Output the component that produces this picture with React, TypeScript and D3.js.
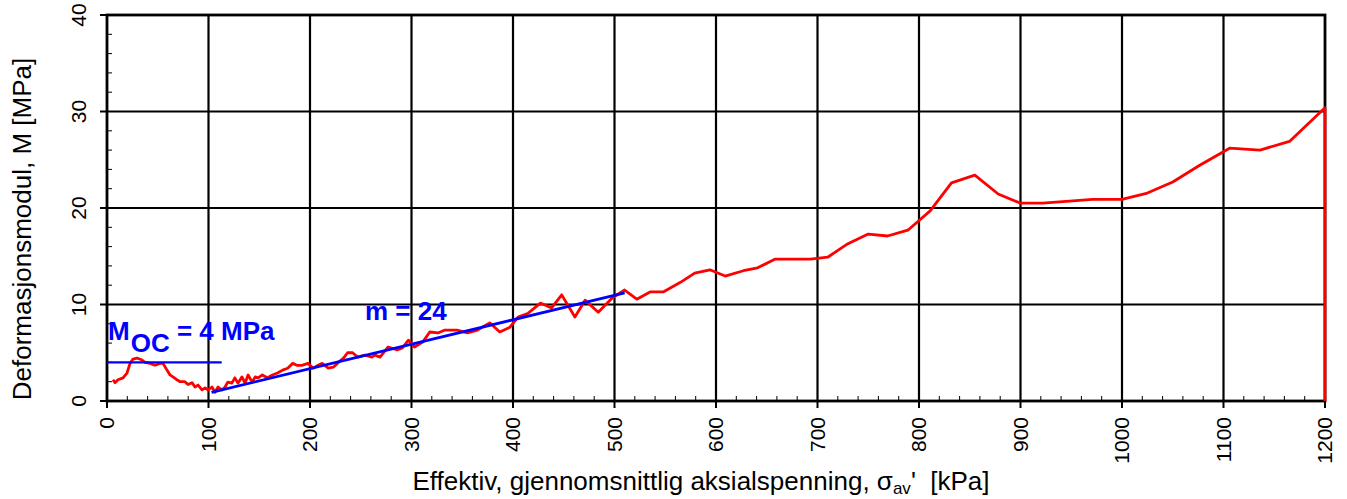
import React from "react";
import * as d3 from "d3";

// effective mean axial stress [kPa] and deformation modulus M [MPa]
const stressKPa = [
  5.9, 7.9, 10.8, 15.8, 19.7, 22.7, 25.6, 29.6, 34.5, 37.4, 42.4, 47.3, 52.2, 55.2, 59.1, 62.1,
  65, 69, 72, 76.8, 79.8, 83.7, 86.7, 89.7, 93.6, 96.6, 99.5, 103.4, 106.4, 109.4, 113.3, 116.3,
  119, 123, 126, 129, 133, 136, 139, 143, 146, 149, 153, 158, 163, 168, 173, 178, 183, 187, 192,
  198, 203, 208, 212, 218, 223, 228, 233, 237, 242, 247, 254, 261, 264, 269, 277, 286, 291, 297,
  303, 311, 318, 326, 333, 345, 355, 365, 377, 387, 397, 405, 415, 427, 438, 448, 461, 471, 484,
  498, 510, 522, 535, 548, 565, 579, 594, 609, 627, 641, 658, 693, 710, 730, 750, 769, 789, 811,
  832, 855, 878, 900, 922, 971, 1000, 1025, 1050, 1077, 1106, 1136, 1165, 1200, 1200,
];
const modulusMPa = [
  2.2, 1.9, 2.2, 2.4, 2.9, 3.9, 4.35, 4.45, 4.25, 4.0, 3.9, 3.7, 3.9, 3.9, 3.2, 2.7,
  2.5, 2.2, 2.0, 2.0, 1.7, 1.9, 1.45, 1.65, 1.15, 1.35, 1.15, 1.45, 0.9, 1.45, 1.15, 1.45,
  1.95, 1.85, 2.4, 1.85, 2.5, 1.85, 2.7, 1.95, 2.5, 2.4, 2.7, 2.4, 2.7, 2.9, 3.2, 3.4, 3.9, 3.7, 3.7,
  3.9, 3.4, 3.7, 3.9, 3.4, 3.5, 4.0, 4.45, 5.0, 5.0, 4.55, 4.75, 4.55, 4.75, 4.55, 5.6, 5.3, 5.5, 6.3,
  5.6, 6.1, 7.15, 7.05, 7.35, 7.35, 7.05, 7.35, 8.1, 7.15, 7.65, 8.7, 9.1, 10.15, 9.65, 11.0, 8.7, 10.45, 9.2,
  10.7, 11.5, 10.55, 11.3, 11.3, 12.3, 13.25, 13.6, 12.95, 13.5, 13.8, 14.7, 14.7, 14.9, 16.3, 17.3, 17.1, 17.7, 19.7,
  22.6, 23.4, 21.45, 20.5, 20.5, 20.9, 20.9, 21.55, 22.7, 24.45, 26.2, 26.0, 26.9, 30.4, 0,
];

// interpreted lines
const mocLineX = [0, 113];
const mocLineY = [4, 4];
const mLineX = [103, 510];
const mLineY = [0.9, 11.2];

const xTicks = [0, 100, 200, 300, 400, 500, 600, 700, 800, 900, 1000, 1100, 1200];
const yTicks = [0, 10, 20, 30, 40];

const W = 1347;
const H = 499;
const margin = { l: 107, t: 15, r: 22, b: 98 };
const font = "'Liberation Sans', Arial, sans-serif";

export default function App() {
  const x = d3.scaleLinear().domain([0, 1200]).range([margin.l, W - margin.r]);
  const y = d3.scaleLinear().domain([0, 40]).range([H - margin.b, margin.t]);

  const line = d3
    .line<[number, number]>()
    .x((d) => x(d[0]))
    .y((d) => y(d[1]));

  const redPts = stressKPa.map((s, i) => [s, modulusMPa[i]] as [number, number]);
  const mocPts = mocLineX.map((s, i) => [s, mocLineY[i]] as [number, number]);
  const mPts = mLineX.map((s, i) => [s, mLineY[i]] as [number, number]);

  const xMinor = d3.range(0, 1201, 20);
  const yMinor = d3.range(0, 41, 2);
  const x0 = x(0), x1 = x(1200), y0 = y(0), y1 = y(40);

  return (
    <svg width={W} height={H} style={{ position: "absolute", left: 0, top: 0, background: "#fff" }}>
      {/* grid */}
      <g stroke="#000" strokeWidth={2.2}>
        {xTicks.slice(1, -1).map((t) => (
          <line key={"gx" + t} x1={x(t)} x2={x(t)} y1={y0} y2={y1} />
        ))}
        {yTicks.slice(1, -1).map((t) => (
          <line key={"gy" + t} x1={x0} x2={x1} y1={y(t)} y2={y(t)} />
        ))}
      </g>

      {/* minor ticks (inside) */}
      <g stroke="#000" strokeWidth={1}>
        {xMinor.map((t) => (
          <line key={"mx" + t} x1={x(t)} x2={x(t)} y1={y0} y2={y0 - 5} />
        ))}
        {yMinor.map((t) => (
          <line key={"my" + t} x1={x0} x2={x0 + 5} y1={y(t)} y2={y(t)} />
        ))}
      </g>
      {/* major ticks (outside) */}
      <g stroke="#000" strokeWidth={2}>
        {xTicks.map((t) => (
          <line key={"tx" + t} x1={x(t)} x2={x(t)} y1={y0} y2={y0 + 7} />
        ))}
        {yTicks.map((t) => (
          <line key={"ty" + t} x1={x0 - 7} x2={x0} y1={y(t)} y2={y(t)} />
        ))}
      </g>

      {/* plot frame */}
      <rect x={x0} y={y1} width={x1 - x0} height={y0 - y1} fill="none" stroke="#000" strokeWidth={2.8} />

      {/* data */}
      <path d={line(redPts) ?? ""} fill="none" stroke="#ff0000" strokeWidth={2.8} strokeLinejoin="round" />
      <path d={line(mocPts) ?? ""} fill="none" stroke="#0000ff" strokeWidth={2.4} />
      <path d={line(mPts) ?? ""} fill="none" stroke="#0000ff" strokeWidth={2.8} />

      {/* annotations */}
      <text x={108} y={340} fontFamily={font} fontSize={26} fontWeight="bold" fill="#0000ff">
        <tspan>M</tspan>
        <tspan dx={1} dy={12}>OC</tspan>
        <tspan dy={-12}>{" = 4 MPa"}</tspan>
      </text>
      <text x={365} y={320} fontFamily={font} fontSize={26} fontWeight="bold" fill="#0000ff">
        m = 24
      </text>

      {/* tick labels */}
      <g fontFamily={font} fontSize={21} fill="#000">
        {xTicks.map((t) => (
          <text key={"lx" + t} transform={`translate(${x(t)},417) rotate(-90)`} textAnchor="end" dy="0.35em">
            {t}
          </text>
        ))}
        {yTicks.map((t) => (
          <text key={"ly" + t} transform={`translate(86,${y(t)}) rotate(-90)`} textAnchor="middle">
            {t}
          </text>
        ))}
      </g>

      {/* axis titles */}
      <text x={701} y={490} textAnchor="middle" fontFamily={font} fontSize={26} fill="#000">
        <tspan>Effektiv, gjennomsnittlig aksialspenning, σ</tspan>
        <tspan fontSize={17} dy={4}>av</tspan>
        <tspan dy={-4}>{"'\u00a0\u00a0[kPa]"}</tspan>
      </text>
      <text transform="translate(31,229) rotate(-90)" textAnchor="middle" fontFamily={font} fontSize={26} fill="#000">
        Deformasjonsmodul, M [MPa]
      </text>
    </svg>
  );
}
